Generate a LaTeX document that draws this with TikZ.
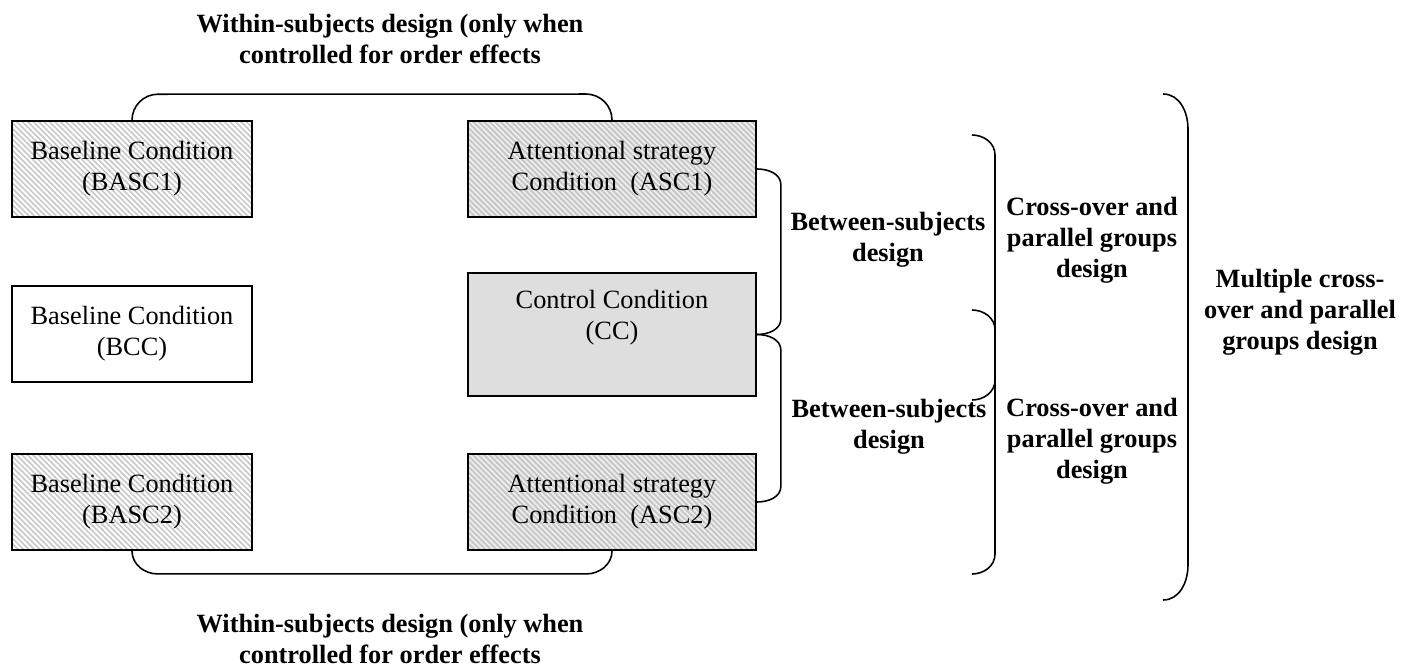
\documentclass[tikz,border=0pt]{standalone}
\usepackage{fontspec}
\setmainfont{Liberation Serif}
\usetikzlibrary{patterns.meta}

\begin{document}
\begin{tikzpicture}[x=0.02cm, y=-0.02cm,
    condition/.style ={rectangle, draw, line width=1.1pt, align=center,
      minimum width=4.8cm, minimum height=1.92cm,
      font=\fontsize{15pt}{17.6pt}\selectfont},
    wide/.style ={minimum width=5.76cm},
    basehatch/.style ={preaction={fill=white},
      pattern={Lines[angle=-45,distance=2.2pt,line width=0.9pt]}, pattern color=black!22},
    strathatch/.style ={preaction={fill=black!22},
      pattern={Lines[angle=-45,distance=2.2pt,line width=0.9pt]}, pattern color=black!6},
    design/.style ={align=center, font=\bfseries\fontsize{15pt}{17.6pt}\selectfont},
    bracket/.style ={line width=0.9pt}]
   \useasboundingbox (0,0) rectangle (1402,668);
   \node[condition, basehatch] (BASC1) at (132,169) {Baseline Condition\\(BASC1)};
   \node[condition, wide, strathatch] (ASC1) at (612,169) {Attentional strategy\\Condition\ \ (ASC1)};
   \node[condition] (BCC) at (132,334) {Baseline Condition\\(BCC)};
   \node[condition, wide, fill=black!13, minimum height=2.46cm] (CC) at (612,334.5) {Control Condition\\(CC)\\\strut};
   \node[condition, basehatch] (BASC2) at (132,502) {Baseline Condition\\(BASC2)};
   \node[condition, wide, strathatch] (ASC2) at (612,502) {Attentional strategy\\Condition\ \ (ASC2)};
   \node[design] (within1) at (390,39) {Within-subjects design (only when\\controlled for order effects};
   \node[design] (within2) at (390,639) {Within-subjects design (only when\\controlled for order effects};
   \node[design] (between1) at (888,240) {Between-subjects\\design};
   \node[design] (between2) at (889,427) {Between-subjects\\design};
   \node[design] (cross1) at (1092,240) {Cross-over and\\parallel groups\\design};
   \node[design] (cross2) at (1092,441) {Cross-over and\\parallel groups\\design};
   \node[design] (multiple) at (1300,312) {Multiple cross-\\over and parallel\\groups design};
   \coordinate (C1a) at (972,135);
   \coordinate (C1b) at (972,400);
   \coordinate (C2a) at (972,310);
   \coordinate (C2b) at (972,574);
   \coordinate (Ma) at (1163,94);
   \coordinate (Mb) at (1163,600);
   \draw[bracket] (BASC1.north) to[out=90,in=180] ++(26,-26) -- ([shift={(-26,-26)}]ASC1.north) to[out=0,in=90] (ASC1.north);
   \draw[bracket] (BASC2.south) to[out=-90,in=180] ++(26,23) -- ([shift={(-26,23)}]ASC2.south) to[out=0,in=-90] (ASC2.south);
   \draw[bracket] (ASC1.east) to[out=0,in=90] ++(24,16) -- ([shift={(24,-16)}]CC.east) to[out=-90,in=0] (CC.east);
   \draw[bracket] (CC.east) to[out=0,in=90] ++(24,16) -- ([shift={(24,-16)}]ASC2.east) to[out=-90,in=0] (ASC2.east);
   \draw[bracket] (C1a) to[out=0,in=90] ++(23,20) -- ([shift={(23,-20)}]C1b) to[out=-90,in=0] (C1b);
   \draw[bracket] (C2a) to[out=0,in=90] ++(23,20) -- ([shift={(23,-20)}]C2b) to[out=-90,in=0] (C2b);
   \draw[bracket] (Ma) to[out=0,in=90] ++(25,35) -- ([shift={(25,-35)}]Mb) to[out=-90,in=0] (Mb);
\end{tikzpicture}
\end{document}
